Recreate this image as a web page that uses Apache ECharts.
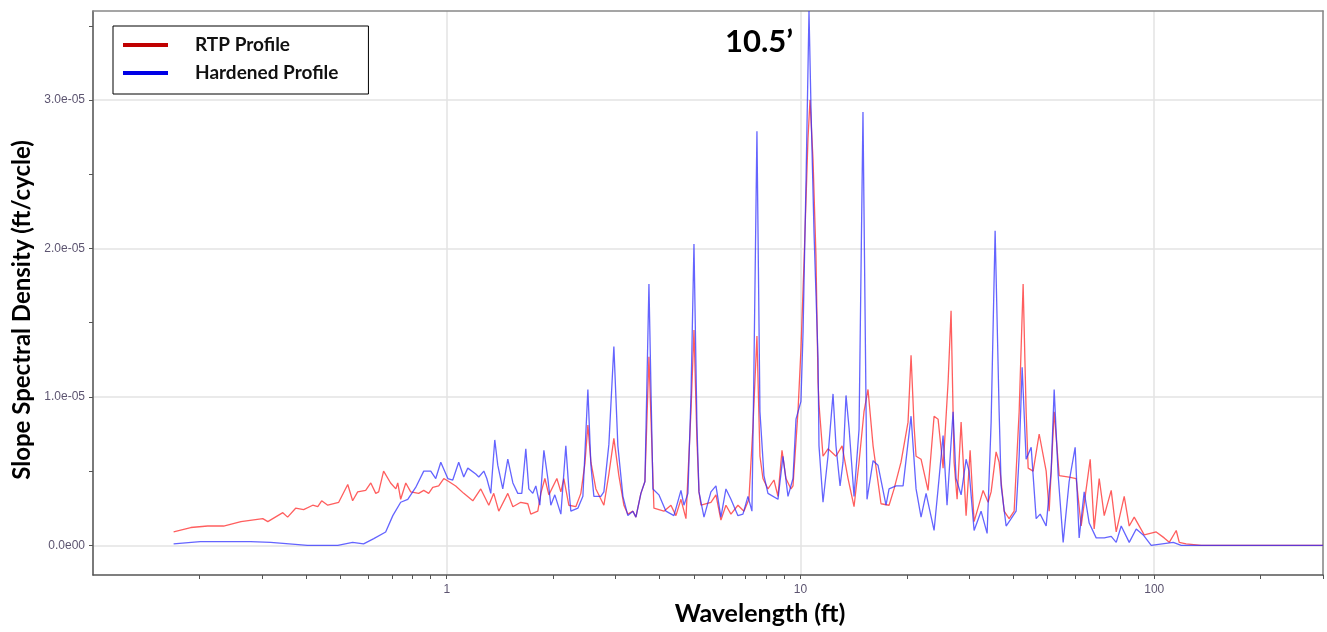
<!DOCTYPE html>
<html>
<head>
<meta charset="utf-8">
<title>Slope Spectral Density</title>
<script src="https://cdn.jsdelivr.net/npm/echarts@6.0.0/dist/echarts.min.js"></script>
<style>
  html, body { margin: 0; padding: 0; background: #fff; }
  #chart { width: 1327px; height: 632px; }
</style>
</head>
<body>
<div id="chart"></div>
<script>
// wavelength (ft) vs slope spectral density (ft/cycle)
const rtpWave = [
  0.169, 0.189, 0.211, 0.234, 0.262, 0.302, 0.312, 0.344, 0.355, 0.374,
  0.394, 0.418, 0.432, 0.443, 0.461, 0.495, 0.525, 0.542, 0.560, 0.590,
  0.610, 0.630, 0.642, 0.663, 0.694, 0.718, 0.727, 0.741, 0.766, 0.791,
  0.833, 0.861, 0.889, 0.913, 0.949, 0.981, 1.013, 1.060, 1.117, 1.185,
  1.248, 1.315, 1.358, 1.403, 1.488, 1.538, 1.619, 1.695, 1.728, 1.809,
  1.845, 1.894, 1.944, 2.048, 2.102, 2.143, 2.214, 2.317, 2.394, 2.458,
  2.506, 2.556, 2.640, 2.781, 2.873, 2.968, 3.066, 3.168, 3.251, 3.359,
  3.426, 3.539, 3.633, 3.729, 3.852, 4.111, 4.303, 4.445, 4.593, 4.745,
  4.902, 4.999, 5.098, 5.165, 5.233, 5.583, 5.768, 5.958, 6.156, 6.359,
  6.656, 6.921, 7.150, 7.339, 7.532, 7.681, 7.833, 8.092, 8.414, 8.637,
  8.866, 9.100, 9.400, 9.524, 9.838, 10.03, 10.23, 10.50, 10.64, 10.85,
  11.06, 11.21, 11.28, 11.58, 11.96, 12.60, 13.11, 13.63, 14.17, 14.64,
  15.12, 15.52, 16.04, 16.89, 17.80, 18.39, 19.24, 20.14, 20.54, 20.95,
  21.22, 21.92, 22.94, 23.86, 24.49, 25.30, 26.14, 26.65, 27.18, 27.72,
  28.45, 29.39, 30.17, 30.96, 32.83, 33.92, 34.59, 35.73, 36.44, 37.65,
  38.89, 40.18, 41.51, 42.60, 43.44, 44.02, 45.47, 47.29, 49.49, 50.47,
  52.14, 53.87, 57.48, 60.16, 62.16, 64.22, 65.92, 67.65, 69.90, 72.22,
  75.58, 78.08, 82.26, 84.98, 87.79, 93.70, 101.3, 106.7, 110.3, 115.4,
  117.7, 123.1, 135.8, 300
];
const rtpSsd = [
  0.09e-5, 0.12e-5, 0.13e-5, 0.13e-5, 0.16e-5, 0.18e-5, 0.16e-5, 0.22e-5, 0.19e-5, 0.25e-5,
  0.24e-5, 0.27e-5, 0.26e-5, 0.30e-5, 0.27e-5, 0.29e-5, 0.41e-5, 0.30e-5, 0.36e-5, 0.37e-5,
  0.42e-5, 0.35e-5, 0.36e-5, 0.50e-5, 0.42e-5, 0.38e-5, 0.42e-5, 0.31e-5, 0.42e-5, 0.36e-5,
  0.35e-5, 0.37e-5, 0.35e-5, 0.39e-5, 0.40e-5, 0.45e-5, 0.43e-5, 0.40e-5, 0.35e-5, 0.30e-5,
  0.38e-5, 0.27e-5, 0.35e-5, 0.23e-5, 0.35e-5, 0.26e-5, 0.29e-5, 0.28e-5, 0.21e-5, 0.23e-5,
  0.35e-5, 0.45e-5, 0.34e-5, 0.45e-5, 0.36e-5, 0.45e-5, 0.27e-5, 0.26e-5, 0.35e-5, 0.55e-5,
  0.81e-5, 0.56e-5, 0.38e-5, 0.27e-5, 0.48e-5, 0.72e-5, 0.47e-5, 0.27e-5, 0.21e-5, 0.23e-5,
  0.19e-5, 0.35e-5, 0.43e-5, 1.27e-5, 0.25e-5, 0.23e-5, 0.27e-5, 0.20e-5, 0.31e-5, 0.18e-5,
  0.90e-5, 1.45e-5, 0.70e-5, 0.36e-5, 0.27e-5, 0.29e-5, 0.34e-5, 0.17e-5, 0.27e-5, 0.21e-5,
  0.27e-5, 0.23e-5, 0.31e-5, 0.80e-5, 1.41e-5, 0.60e-5, 0.45e-5, 0.38e-5, 0.44e-5, 0.33e-5,
  0.64e-5, 0.45e-5, 0.38e-5, 0.40e-5, 0.90e-5, 1.32e-5, 1.90e-5, 2.74e-5, 3.00e-5, 2.60e-5,
  1.95e-5, 1.10e-5, 0.95e-5, 0.60e-5, 0.65e-5, 0.60e-5, 0.67e-5, 0.45e-5, 0.26e-5, 0.56e-5,
  0.90e-5, 1.05e-5, 0.67e-5, 0.28e-5, 0.27e-5, 0.38e-5, 0.56e-5, 0.83e-5, 1.28e-5, 0.80e-5,
  0.60e-5, 0.58e-5, 0.37e-5, 0.87e-5, 0.85e-5, 0.52e-5, 1.10e-5, 1.58e-5, 0.56e-5, 0.31e-5,
  0.83e-5, 0.20e-5, 0.64e-5, 0.16e-5, 0.37e-5, 0.29e-5, 0.36e-5, 0.63e-5, 0.56e-5, 0.23e-5,
  0.18e-5, 0.23e-5, 0.90e-5, 1.76e-5, 0.90e-5, 0.52e-5, 0.50e-5, 0.75e-5, 0.50e-5, 0.23e-5,
  0.90e-5, 0.47e-5, 0.46e-5, 0.45e-5, 0.13e-5, 0.38e-5, 0.58e-5, 0.11e-5, 0.45e-5, 0.20e-5,
  0.37e-5, 0.09e-5, 0.33e-5, 0.13e-5, 0.19e-5, 0.07e-5, 0.09e-5, 0.05e-5, 0.02e-5, 0.10e-5,
  0.02e-5, 0.01e-5, 0, 0
];
const hardWave = [
  0.169, 0.201, 0.245, 0.279, 0.318, 0.404, 0.492, 0.542, 0.582, 0.622,
  0.672, 0.704, 0.741, 0.776, 0.817, 0.861, 0.901, 0.931, 0.962, 1.007,
  1.040, 1.081, 1.117, 1.147, 1.208, 1.232, 1.273, 1.298, 1.332, 1.367,
  1.394, 1.440, 1.488, 1.538, 1.588, 1.630, 1.673, 1.706, 1.751, 1.786,
  1.833, 1.882, 1.931, 1.969, 2.021, 2.102, 2.171, 2.214, 2.243, 2.348,
  2.426, 2.506, 2.556, 2.606, 2.727, 2.781, 2.873, 2.968, 3.046, 3.148,
  3.251, 3.359, 3.426, 3.539, 3.633, 3.729, 3.827, 3.979, 4.165, 4.388,
  4.593, 4.683, 4.807, 4.902, 4.999, 5.098, 5.165, 5.336, 5.583, 5.768,
  5.958, 6.156, 6.359, 6.656, 6.876, 7.104, 7.291, 7.387, 7.532, 7.681,
  7.883, 8.092, 8.637, 8.923, 9.219, 9.524, 9.712, 10.03, 10.17, 10.37,
  10.57, 10.71, 10.92, 11.21, 11.28, 11.58, 11.96, 12.36, 12.60, 12.94,
  13.19, 13.45, 13.72, 14.17, 14.64, 15.02, 15.42, 16.04, 16.56, 17.45,
  17.80, 18.63, 19.50, 20.54, 21.22, 21.92, 22.65, 23.86, 24.49, 25.30,
  25.96, 27.00, 27.53, 28.45, 29.39, 29.97, 30.96, 32.40, 33.70, 34.59,
  35.50, 36.44, 36.92, 38.14, 39.40, 40.70, 41.51, 42.33, 43.44, 44.89,
  46.37, 47.60, 49.49, 51.13, 52.14, 53.52, 55.28, 57.48, 59.77, 61.35,
  63.39, 65.49, 68.54, 72.22, 75.58, 78.08, 80.66, 84.98, 88.95, 93.09,
  98.06, 113.2, 119.2, 137.6, 300
];
const hardSsd = [
  0.01e-5, 0.025e-5, 0.025e-5, 0.025e-5, 0.02e-5, 0, 0, 0.02e-5, 0.01e-5, 0.045e-5,
  0.09e-5, 0.20e-5, 0.29e-5, 0.31e-5, 0.39e-5, 0.50e-5, 0.50e-5, 0.45e-5, 0.56e-5, 0.45e-5,
  0.44e-5, 0.56e-5, 0.46e-5, 0.52e-5, 0.48e-5, 0.46e-5, 0.50e-5, 0.45e-5, 0.35e-5, 0.71e-5,
  0.54e-5, 0.38e-5, 0.58e-5, 0.42e-5, 0.35e-5, 0.35e-5, 0.65e-5, 0.38e-5, 0.35e-5, 0.40e-5,
  0.27e-5, 0.64e-5, 0.45e-5, 0.27e-5, 0.34e-5, 0.21e-5, 0.67e-5, 0.38e-5, 0.23e-5, 0.25e-5,
  0.33e-5, 1.05e-5, 0.54e-5, 0.33e-5, 0.33e-5, 0.36e-5, 0.68e-5, 1.34e-5, 0.67e-5, 0.33e-5,
  0.20e-5, 0.23e-5, 0.19e-5, 0.35e-5, 0.43e-5, 1.76e-5, 0.38e-5, 0.34e-5, 0.23e-5, 0.20e-5,
  0.37e-5, 0.27e-5, 0.35e-5, 1.00e-5, 2.03e-5, 0.80e-5, 0.36e-5, 0.19e-5, 0.36e-5, 0.40e-5,
  0.19e-5, 0.38e-5, 0.31e-5, 0.20e-5, 0.21e-5, 0.33e-5, 0.23e-5, 1.20e-5, 2.79e-5, 0.90e-5,
  0.47e-5, 0.35e-5, 0.31e-5, 0.60e-5, 0.33e-5, 0.45e-5, 0.85e-5, 0.97e-5, 1.44e-5, 2.47e-5,
  3.60e-5, 2.94e-5, 2.11e-5, 1.26e-5, 0.67e-5, 0.29e-5, 0.60e-5, 1.02e-5, 0.67e-5, 0.40e-5,
  0.56e-5, 1.01e-5, 0.79e-5, 0.33e-5, 0.78e-5, 2.92e-5, 0.31e-5, 0.57e-5, 0.54e-5, 0.27e-5,
  0.38e-5, 0.40e-5, 0.40e-5, 0.87e-5, 0.38e-5, 0.19e-5, 0.35e-5, 0.10e-5, 0.38e-5, 0.74e-5,
  0.27e-5, 0.90e-5, 0.45e-5, 0.34e-5, 0.58e-5, 0.50e-5, 0.10e-5, 0.23e-5, 0.08e-5, 0.83e-5,
  2.12e-5, 0.90e-5, 0.40e-5, 0.13e-5, 0.18e-5, 0.23e-5, 0.60e-5, 1.20e-5, 0.58e-5, 0.66e-5,
  0.18e-5, 0.21e-5, 0.13e-5, 0.50e-5, 1.05e-5, 0.47e-5, 0.02e-5, 0.43e-5, 0.66e-5, 0.05e-5,
  0.36e-5, 0.15e-5, 0.05e-5, 0.05e-5, 0.06e-5, 0.02e-5, 0.13e-5, 0.02e-5, 0.11e-5, 0.07e-5,
  0, 0.02e-5, 0, 0, 0
];

// axis ticks
const xLabelValues = [1, 10, 100];
const xTickValues = [
  0.2, 0.3, 0.4, 0.5, 0.6, 0.7, 0.8, 0.9, 1,
  2, 3, 4, 5, 6, 7, 8, 9, 10,
  20, 30, 40, 50, 60, 70, 80, 90, 100, 200, 300
];
const yLabelValues = [0, 1e-5, 2e-5, 3e-5];
const yTickValues = [0, 0.5e-5, 1e-5, 1.5e-5, 2e-5, 2.5e-5, 3e-5, 3.5e-5];

const axisTextColor = '#5c5470';
const titleFont = 'Lato, "Open Sans", sans-serif';

// 1e-5 -> "1.0e-05", 0 -> "0.0e00"
function sciLabel(v) {
  if (v === 0) return '0.0e00';
  const parts = v.toExponential(1).split('e');
  const exp = Number(parts[1]);
  return parts[0] + 'e' + (exp < 0 ? '-' : '+') + String(Math.abs(exp)).padStart(2, '0');
}

const chart = echarts.init(document.getElementById('chart'));

chart.setOption({
  animation: false,
  backgroundColor: '#fff',
  grid: { left: 93, right: 4, top: 11, bottom: 57 },
  legend: {
    left: 113,
    top: 26,
    orient: 'vertical',
    icon: 'rect',
    itemWidth: 45,
    itemHeight: 4,
    itemGap: 8,
    padding: [9, 30, 11, 10],
    borderColor: '#000',
    borderWidth: 1,
    backgroundColor: '#fff',
    textStyle: {
      fontFamily: titleFont,
      fontSize: 19,
      fontWeight: 'bold',
      color: '#111',
      lineHeight: 20,
      padding: [0, 0, 0, 22]
    },
    data: [
      { name: 'RTP Profile', itemStyle: { color: '#c00000' } },
      { name: 'Hardened Profile', itemStyle: { color: '#0000e6' } }
    ]
  },
  xAxis: [
    {
      type: 'log',
      logBase: 10,
      min: 0.1,
      max: 300,
      position: 'bottom',
      axisLine: { onZero: false, lineStyle: { color: '#555', width: 1.5 } },
      axisTick: { customValues: xTickValues, length: 4, lineStyle: { color: '#555' } },
      axisLabel: { customValues: xLabelValues, color: axisTextColor, fontSize: 12, margin: 9 },
      splitLine: { show: false }
    },
    {
      // top border + vertical grid lines
      type: 'log',
      logBase: 10,
      min: 0.1,
      max: 300,
      position: 'top',
      axisLine: { onZero: false, lineStyle: { color: '#888', width: 1.5 } },
      axisTick: { show: false },
      axisLabel: { show: false },
      splitLine: { show: true, lineStyle: { color: '#e3e3e3', width: 1.5 } }
    }
  ],
  yAxis: [
    {
      type: 'value',
      min: -0.2e-5,
      max: 3.6e-5,
      position: 'left',
      axisLine: { show: true, onZero: false, lineStyle: { color: '#555', width: 1.5 } },
      axisTick: { show: true, customValues: yTickValues, length: 4, lineStyle: { color: '#555' } },
      axisLabel: {
        customValues: yLabelValues,
        color: axisTextColor,
        fontSize: 12,
        margin: 8,
        formatter: sciLabel
      },
      splitLine: { show: false }
    },
    {
      // right border + horizontal grid lines
      type: 'value',
      min: -0.2e-5,
      max: 3.6e-5,
      position: 'right',
      axisLine: { show: true, onZero: false, lineStyle: { color: '#888', width: 1.5 } },
      axisTick: { show: false, customValues: yLabelValues },
      axisLabel: { show: false },
      splitLine: { show: true, lineStyle: { color: '#e3e3e3', width: 1.5 } }
    }
  ],
  series: [
    {
      name: 'RTP Profile',
      type: 'line',
      symbol: 'none',
      data: rtpWave.map((w, i) => [w, rtpSsd[i]]),
      lineStyle: { color: 'rgba(255, 40, 40, 0.75)', width: 1.3 },
      itemStyle: { color: '#c00000' },
      z: 2
    },
    {
      name: 'Hardened Profile',
      type: 'line',
      symbol: 'none',
      data: hardWave.map((w, i) => [w, hardSsd[i]]),
      lineStyle: { color: 'rgba(40, 40, 255, 0.72)', width: 1.3 },
      itemStyle: { color: '#0000e6' },
      z: 3
    }
  ],
  graphic: [
    {
      type: 'text',
      x: 759,
      y: 42,
      style: {
        text: '10.5\u2019',
        font: 'bold 31px ' + titleFont,
        fill: '#000',
        textAlign: 'center',
        textVerticalAlign: 'middle'
      }
    },
    {
      type: 'text',
      x: 760,
      y: 614,
      style: {
        text: 'Wavelength (ft)',
        font: 'bold 25px ' + titleFont,
        fill: '#000',
        textAlign: 'center',
        textVerticalAlign: 'middle'
      }
    },
    {
      type: 'text',
      x: 22,
      y: 310,
      rotation: Math.PI / 2,
      style: {
        text: 'Slope Spectral Density (ft/cycle)',
        font: 'bold 24px ' + titleFont,
        fill: '#000',
        textAlign: 'center',
        textVerticalAlign: 'middle'
      }
    }
  ]
});
</script>
</body>
</html>
